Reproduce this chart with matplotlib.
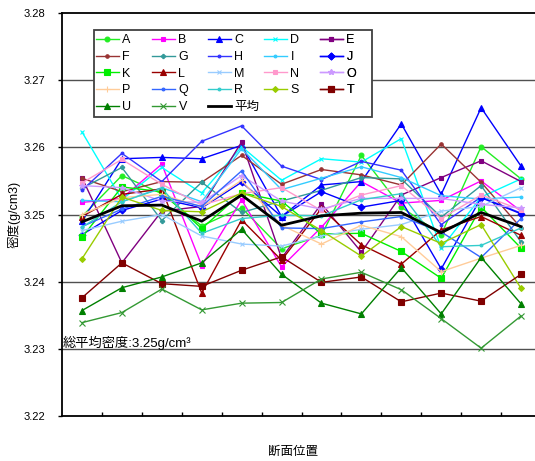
import matplotlib
matplotlib.use("Agg")
import matplotlib.pyplot as plt
from matplotlib.patches import Rectangle

plt.rcParams['font.family'] = ['Liberation Sans', 'Noto Sans CJK JP', 'DejaVu Sans']

positions = list(range(12))
names = list("ABCDEFGHIJKLMNOPQRSTUV")

A = [3.2497, 3.2558, 3.2531, 3.2483, 3.2510, 3.2449, 3.2469, 3.2588, 3.2511, 3.2470, 3.2601, 3.2553]
B = [3.2518, 3.2524, 3.2575, 3.2424, 3.2522, 3.2422, 3.2481, 3.2549, 3.2517, 3.2521, 3.2550, 3.2505]
C = [3.2490, 3.2583, 3.2585, 3.2583, 3.2603, 3.2497, 3.2544, 3.2549, 3.2635, 3.2530, 3.2659, 3.2572]
D = [3.2623, 3.2522, 3.2570, 3.2532, 3.2601, 3.2551, 3.2583, 3.2578, 3.2613, 3.2450, 3.2526, 3.2553]
E = [3.2555, 3.2428, 3.2505, 3.2512, 3.2608, 3.2435, 3.2516, 3.2444, 3.2529, 3.2555, 3.2580, 3.2549]
F = [3.2554, 3.2534, 3.2549, 3.2548, 3.2588, 3.2545, 3.2567, 3.2559, 3.2544, 3.2605, 3.2548, 3.2480]
G = [3.2539, 3.2570, 3.2491, 3.2548, 3.2503, 3.2520, 3.2536, 3.2555, 3.2553, 3.2496, 3.2543, 3.2459]
H = [3.2536, 3.2591, 3.2549, 3.2609, 3.2632, 3.2572, 3.2552, 3.2579, 3.2566, 3.2485, 3.2526, 3.2502]
I = [3.2521, 3.2519, 3.2540, 3.2519, 3.2598, 3.2537, 3.2554, 3.2571, 3.2555, 3.2528, 3.2523, 3.2526]
J = [3.2470, 3.2506, 3.2523, 3.2510, 3.2548, 3.2497, 3.2534, 3.2511, 3.2521, 3.2419, 3.2525, 3.2501]
K = [3.2466, 3.2541, 3.2534, 3.2479, 3.2532, 3.2520, 3.2471, 3.2472, 3.2445, 3.2405, 3.2511, 3.2450]
L = [3.2497, 3.2530, 3.2538, 3.2383, 3.2492, 3.2432, 3.2509, 3.2455, 3.2426, 3.2477, 3.2497, 3.2469]
M = [3.2476, 3.2490, 3.2500, 3.2468, 3.2456, 3.2453, 3.2468, 3.2478, 3.2485, 3.2505, 3.2512, 3.2540]
N = [3.2547, 3.2582, 3.2545, 3.2514, 3.2531, 3.2540, 3.2506, 3.2529, 3.2543, 3.2494, 3.2529, 3.2507]
O = [3.2543, 3.2540, 3.2520, 3.2518, 3.2558, 3.2520, 3.2508, 3.2524, 3.2524, 3.2524, 3.2515, 3.2510]
P = [3.2500, 3.2525, 3.2530, 3.2511, 3.2551, 3.2484, 3.2456, 3.2484, 3.2467, 3.2415, 3.2435, 3.2454]
Q = [3.2482, 3.2508, 3.2527, 3.2512, 3.2565, 3.2480, 3.2479, 3.2489, 3.2497, 3.2474, 3.2436, 3.2494]
R = [3.2481, 3.2519, 3.2539, 3.2472, 3.2494, 3.2499, 3.2498, 3.2522, 3.2531, 3.2452, 3.2454, 3.2480]
S = [3.2434, 3.2526, 3.2506, 3.2504, 3.2532, 3.2512, 3.2476, 3.2438, 3.2482, 3.2457, 3.2485, 3.2390]
T = [3.2376, 3.2428, 3.2397, 3.2393, 3.2417, 3.2437, 3.2399, 3.2407, 3.2370, 3.2383, 3.2371, 3.2411]
U = [3.2357, 3.2391, 3.2407, 3.2428, 3.2478, 3.2411, 3.2368, 3.2352, 3.2421, 3.2352, 3.2436, 3.2367]
V = [3.2339, 3.2354, 3.2389, 3.2358, 3.2368, 3.2369, 3.2404, 3.2414, 3.2388, 3.2345, 3.2301, 3.2349]
AVG = [3.2489, 3.2513, 3.2514, 3.2490, 3.2529, 3.2484, 3.2498, 3.2502, 3.2503, 3.2473, 3.2503, 3.2482]

yticks = [3.22, 3.23, 3.24, 3.25, 3.26, 3.27, 3.28]
ytick_labels = ["3.22", "3.23", "3.24", "3.25", "3.26", "3.27", "3.28"]

series = [A, B, C, D, E, F, G, H, I, J, K, L, M, N, O, P, Q, R, S, T, U, V]
styles = {
    'A': ('#22EE22', 'o', 3.5), 'B': ('#FF00FF', 's', 2.5), 'C': ('#0000FF', '^', 4),
    'D': ('#00FFFF', 'x', 3.5), 'E': ('#800080', 's', 3), 'F': ('#993333', 'o', 2.5),
    'G': ('#339999', 'P', 3), 'H': ('#3333FF', 'o', 2), 'I': ('#33CCFF', 'o', 2),
    'J': ('#0000FF', 'D', 3.5), 'K': ('#00EE00', 's', 4), 'L': ('#990000', '^', 4),
    'M': ('#99CCFF', 'x', 3.5), 'N': ('#FF99CC', 's', 3), 'O': ('#CC99FF', '*', 4),
    'P': ('#FFCC99', '+', 4), 'Q': ('#3366FF', 'o', 2), 'R': ('#33CCCC', 'o', 2),
    'S': ('#99CC00', 'D', 3), 'T': ('#800000', 's', 4), 'U': ('#008000', '^', 4),
    'V': ('#339933', 'x', 4),
}

W, Hh = 535, 461
fig = plt.figure(figsize=(W / 100, Hh / 100), dpi=100)
ax_l, ax_r, ax_t, ax_b = 62, 541, 13, 416
ax = fig.add_axes([ax_l / W, 1 - ax_b / Hh, (ax_r - ax_l) / W, (ax_b - ax_t) / Hh])

handles = {}
for name, vals in zip(names, series):
    c, m, ms = styles[name]
    h, = ax.plot(positions, vals, color=c, marker=m, markersize=ms, lw=1.0,
                 markeredgewidth=0.8, label=name, clip_on=False)
    handles[name] = h
h, = ax.plot(positions, AVG, color='black', lw=2.0, label='平均')
handles['平均'] = h

ax.set_xlim(-0.5, 11.5)
ax.set_ylim(3.22, 3.28)
ax.set_yticks(yticks)
ax.set_yticklabels(ytick_labels, fontsize=8)
ax.set_xticks([i + 0.5 for i in range(11)])
ax.set_xticklabels([])
ax.tick_params(axis='x', direction='in', length=3, width=1)
ax.tick_params(axis='y', direction='out', length=3, width=1, pad=9)
for yv in yticks[1:-1]:
    ax.axhline(yv, color='#505050', lw=1.0, zorder=0.5)
for sp in ax.spines.values():
    sp.set_linewidth(1.3)
    sp.set_color('black')

fig.text(14 / W, 1 - 214 / Hh, '密度(g/cm3)', rotation=90, ha='center', va='center', fontsize=9)
fig.text(293 / W, 1 - 452 / Hh, '断面位置', ha='center', va='center', fontsize=9)
ax.text(0.001, 3.2302, '総平均密度:3.25g/cm³', fontsize=9.5, ha='left', va='baseline',
        transform=ax.get_yaxis_transform(), zorder=6)

# legend: 5 columns, row-major order, uniform column width like the reference
leg_rows = [["A", "B", "C", "D", "E"],
            ["F", "G", "H", "I", "J"],
            ["K", "L", "M", "N", "O"],
            ["P", "Q", "R", "S", "T"],
            ["U", "V", "平均"]]
box_l, box_r, box_t, box_b = 94, 372, 30, 117
frame = Rectangle((box_l / W, 1 - box_b / Hh), (box_r - box_l) / W, (box_b - box_t) / Hh,
                  transform=fig.transFigure, facecolor='white', edgecolor='#404040',
                  lw=1.3, zorder=4)
ax.add_patch(frame)
frame.set_clip_on(False)
col_x = [96.2, 152.2, 208.2, 264.2, 320.2]
for ci, x0 in enumerate(col_x):
    labs = [row[ci] for row in leg_rows if ci < len(row)]
    lg = ax.legend([handles[l] for l in labs], labs, loc='upper left',
                   bbox_to_anchor=(x0 / W, 1 - 34.2 / Hh), bbox_transform=fig.transFigure,
                   frameon=False, fontsize=9, handlelength=1.8, handletextpad=0.3,
                   labelspacing=0.38, borderpad=0.0, borderaxespad=0.0)
    lg.set_zorder(5)
    ax.add_artist(lg)

fig.savefig('out.png', dpi=100)
